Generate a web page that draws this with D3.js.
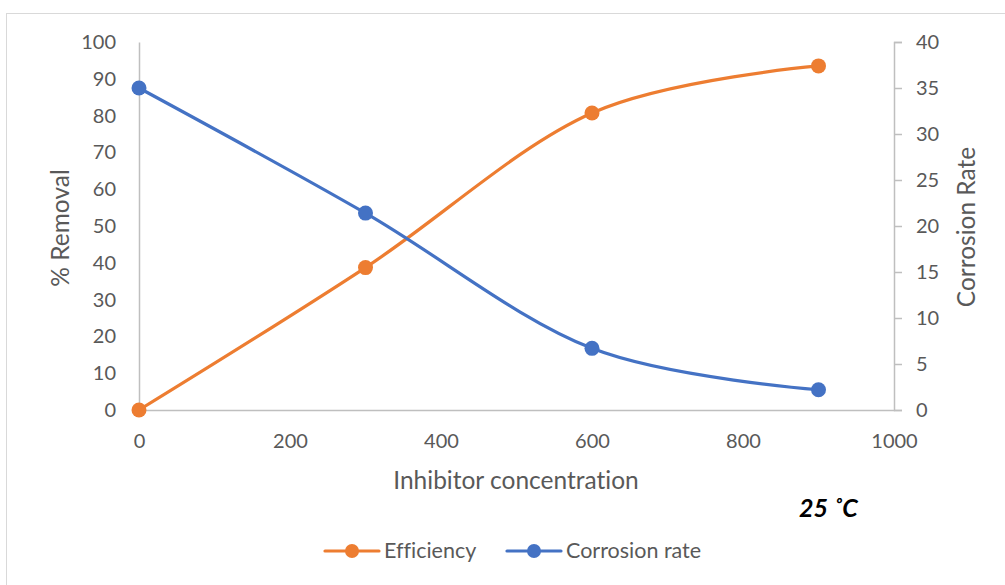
<!DOCTYPE html>
<html><head><meta charset="utf-8">
<script src="https://cdn.jsdelivr.net/npm/d3@7"></script>
<style>body{margin:0;background:#fff}svg{display:block}text{font-family:Lato,"Open Sans",sans-serif;font-variant-ligatures:none}</style>
</head><body><svg id="c" width="1005" height="585"></svg>
<script>
const concentrations = [0, 300, 600, 900];
const efficiency = [0, 38.7, 80.7, 93.5];
const corrosionRate = [35.0, 21.4, 6.7, 2.2];
const xTicks = [0, 200, 400, 600, 800, 1000];
const leftTicks = [0,10,20,30,40,50,60,70,80,90,100];
const rightTicks = [0,5,10,15,20,25,30,35,40];
const seriesNames = ["Efficiency", "Corrosion rate"];

const svg = d3.select("#c");
const orange = "#ED7D31", blue = "#4472C4", grey = "#595959", axisC = "#BFBFBF";
svg.append("rect").attr("x",6.5).attr("y",13.5).attr("width",1010).attr("height",600)
  .attr("fill","none").attr("stroke","#D9D9D9").attr("stroke-width",1);

const x = d3.scaleLinear().domain([0,1000]).range([139,894]);
const yL = d3.scaleLinear().domain([0,100]).range([410,42]);
const yR = d3.scaleLinear().domain([0,40]).range([410,42]);

const axL = svg.append("g").attr("transform","translate(139,0)").call(d3.axisLeft(yL).tickValues(leftTicks).tickFormat(d3.format("d")).tickSize(0).tickPadding(23));
const axR = svg.append("g").attr("transform","translate(894,0)").call(d3.axisRight(yR).tickValues(rightTicks).tickFormat(d3.format("d")).tickSize(8).tickPadding(14));
const axB = svg.append("g").attr("transform","translate(0,410)").call(d3.axisBottom(x).tickValues(xTicks).tickFormat(d3.format("d")).tickSize(0).tickPadding(24));
[axL,axR,axB].forEach(a=>{
  a.select(".domain").attr("stroke",axisC).attr("stroke-width",1.5);
  a.selectAll(".tick line").attr("stroke",axisC).attr("stroke-width",1.5);
  a.selectAll("text").attr("fill",grey).style("font-size","20px");
});

const data = concentrations.map((c,i)=>({c, e:efficiency[i], r:corrosionRate[i]}));
const curve = d3.curveCardinal.tension(0);
const lineE = d3.line().x(d=>x(d.c)).y(d=>yL(d.e)).curve(curve);
const lineR = d3.line().x(d=>x(d.c)).y(d=>yR(d.r)).curve(curve);
svg.append("path").datum(data).attr("d",lineE).attr("fill","none").attr("stroke",orange).attr("stroke-width",3.2).attr("stroke-linecap","round");
svg.append("path").datum(data).attr("d",lineR).attr("fill","none").attr("stroke",blue).attr("stroke-width",3.2).attr("stroke-linecap","round");
svg.selectAll(".pe").data(data).enter().append("circle").attr("cx",d=>x(d.c)).attr("cy",d=>yL(d.e)).attr("r",7.5).attr("fill",orange);
svg.selectAll(".pr").data(data).enter().append("circle").attr("cx",d=>x(d.c)).attr("cy",d=>yR(d.r)).attr("r",7.5).attr("fill",blue);

svg.append("text").attr("transform","translate(69,228) rotate(-90)").attr("text-anchor","middle").attr("fill",grey).style("font-size","24.5px").text("% Removal");
svg.append("text").attr("transform","translate(975,227) rotate(-90)").attr("text-anchor","middle").attr("fill",grey).style("font-size","24.5px").text("Corrosion Rate");
svg.append("text").attr("x",516).attr("y",489).attr("text-anchor","middle").attr("fill",grey).style("font-size","24.5px").text("Inhibitor concentration");
const t = svg.append("text").attr("x",799).attr("y",517).attr("fill","#000").style("font-size","25px").style("font-weight","bold").style("font-style","italic");
t.append("tspan").text("25");
t.append("tspan").attr("dx",5).text("˚C");

const leg = [{n:seriesNames[0],c:orange,x:325},{n:seriesNames[1],c:blue,x:507}];
leg.forEach(l=>{
  svg.append("line").attr("x1",l.x).attr("x2",l.x+54).attr("y1",551).attr("y2",551).attr("stroke",l.c).attr("stroke-width",3.2).attr("stroke-linecap","round");
  svg.append("circle").attr("cx",l.x+27).attr("cy",551).attr("r",7).attr("fill",l.c);
  svg.append("text").attr("x",l.x+59).attr("y",558).attr("fill",grey).style("font-size","21.5px").text(l.n);
});
</script></body></html>
